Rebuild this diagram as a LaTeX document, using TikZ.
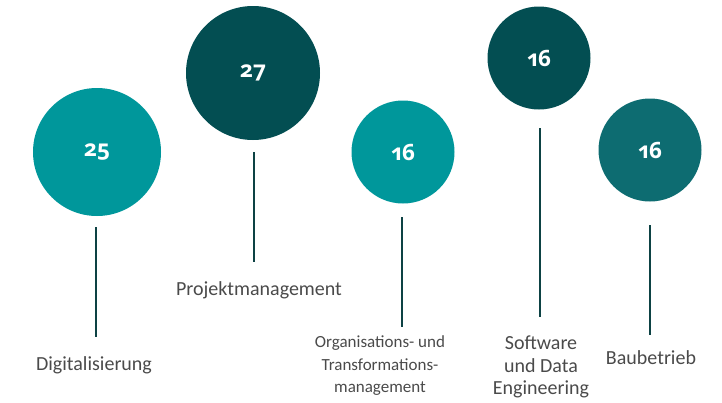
\documentclass[tikz,border=0pt]{standalone}
\usepackage{fontspec}
\setmainfont{Carlito}
\newfontfamily\numfont[Numbers=OldStyle]{Open Sans}
\definecolor{tealA}{HTML}{00979B}
\definecolor{tealD}{HTML}{034E52}
\definecolor{tealM}{HTML}{0D6C71}
\definecolor{stem}{HTML}{0D4244}
\definecolor{lbl}{HTML}{4A4A4A}
\tikzset{
  x=1pt,y=-1pt,
  bubble/.style={circle,inner sep=0pt,text=white,font=\numfont\bfseries\fontsize{22.5}{22.5}\selectfont},
  stemline/.style={draw=stem,line width=2.6pt},
  label/.style={text=lbl,align=center,font=\fontsize{20}{22.5}\selectfont,inner sep=0pt},
  smalllabel/.style={label,font=\fontsize{17}{22.5}\selectfont}
}
\begin{document}
\begin{tikzpicture}
\useasboundingbox (0,0) rectangle (722,402);
\node[bubble,fill=tealA,minimum size=128pt] (c1) at (97,152) {25};
\node[bubble,fill=tealD,minimum size=134pt] (c2) at (253,73) {27};
\node[bubble,fill=tealA,minimum size=103pt] (c3) at (403,152) {16};
\node[bubble,fill=tealD,minimum size=103pt] (c4) at (539,58) {16};
\node[bubble,fill=tealM,minimum size=103pt] (c5) at (650,150) {16};
\coordinate (a1) at (96,227); \coordinate (b1) at (96,337);
\coordinate (a2) at (254,152); \coordinate (b2) at (254,262);
\coordinate (a3) at (402,217); \coordinate (b3) at (402,327);
\coordinate (a4) at (540,128); \coordinate (b4) at (540,317);
\coordinate (a5) at (650,225); \coordinate (b5) at (650,335);
\foreach \i in {1,...,5}{\draw[stemline] (a\i) -- (b\i);}
\node[label] (l1) at (94,365) {Digitalisierung};
\node[label] (l2) at (259,290) {Projektmanagement};
\node[smalllabel] (l3) at (380,366) {Organisations- und\\Transformations-\\management};
\node[label] (l4) at (541,367) {Software\\und Data\\Engineering};
\node[label] (l5) at (651,358) {Baubetrieb};
\end{tikzpicture}
\end{document}
